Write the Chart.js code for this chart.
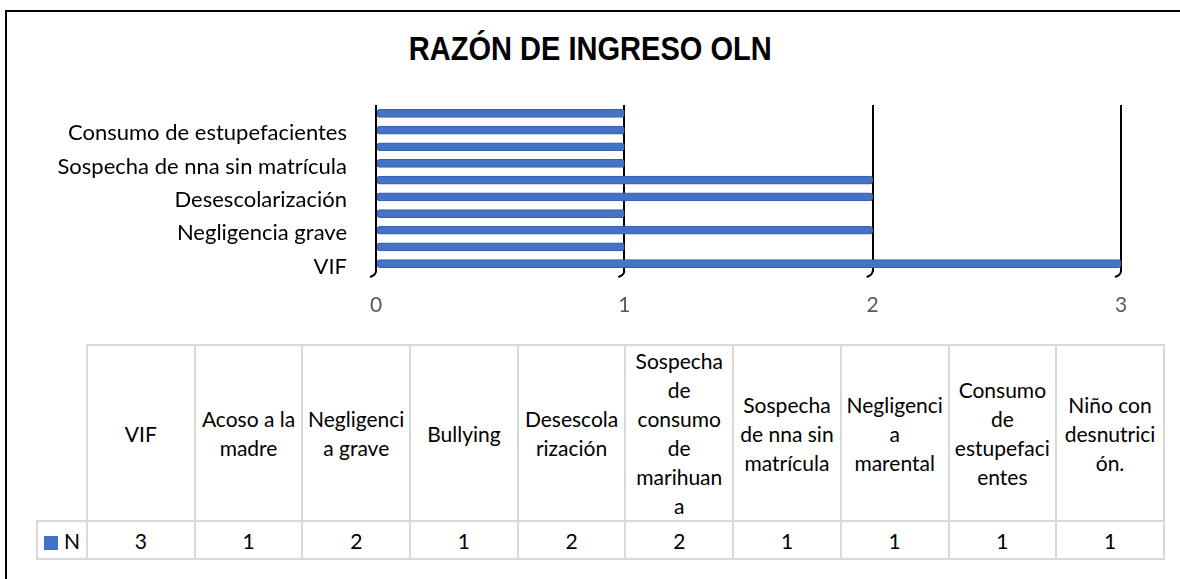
<!DOCTYPE html>
<html>
<head>
<meta charset="utf-8">
<script src="https://cdn.jsdelivr.net/npm/chart.js@4"></script>
<style>
  body { margin: 0; background: #fff; width: 1180px; height: 579px; overflow: hidden; position: relative; font-family: Lato, sans-serif; }
  #frame { position: absolute; left: 5px; top: 10px; width: 1200px; height: 600px; border: 2px solid #000; box-sizing: border-box; }
  #title { position: absolute; left: 0; width: 1180px; top: 30px; text-align: center; font-family: 'Liberation Sans', Arial, sans-serif; font-weight: bold; font-size: 33px; color: #000; }
  #title span { display: inline-block; transform: scaleX(0.88); }
  #chartBox { position: absolute; left: 0; top: 0; width: 1180px; height: 330px; }
  #dataTable { position: absolute; left: 36px; top: 344px; border-collapse: collapse; table-layout: fixed; font-size: 21px; color: #000; }
  #dataTable td { border: 2px solid #d9d9d9; text-align: center; vertical-align: middle; padding: 0; line-height: 29px; white-space: nowrap; }
  #dataTable td.corner { border-top: none; border-left: none; }
  .swatch { display: inline-block; width: 14px; height: 14px; background: #4472C4; margin-right: 6px; vertical-align: -1px; }
</style>
</head>
<body>
<div id="frame"></div>
<div id="title"><span>RAZÓN DE INGRESO OLN</span></div>
<div id="chartBox"><canvas id="razonChart"></canvas></div>
<table id="dataTable"></table>
<script>
const categories = ['VIF', 'Acoso a la madre', 'Negligencia grave', 'Bullying', 'Desescolarización',
  'Sospecha de consumo de marihuana', 'Sospecha de nna sin matrícula', 'Negligencia marental',
  'Consumo de estupefacientes', 'Niño con desnutrición.'];
const values = [3, 1, 2, 1, 2, 2, 1, 1, 1, 1];
const seriesName = 'N';
const xTicks = [0, 1, 2, 3];
// header text of the data table, wrapped the way the picture shows it
const tableHeaders = [['VIF'], ['Acoso a la', 'madre'], ['Negligenci', 'a grave'], ['Bullying'],
  ['Desescola', 'rización'], ['Sospecha', 'de', 'consumo', 'de', 'marihuan', 'a'],
  ['Sospecha', 'de nna sin', 'matrícula'], ['Negligenci', 'a', 'marental'],
  ['Consumo', 'de', 'estupefaci', 'entes'], ['Niño con', 'desnutrici', 'ón.']];

const barColor = '#4472C4';

// little slanted feet under each vertical gridline
const gridFeet = {
  id: 'gridFeet',
  afterDraw(chart) {
    const ctx = chart.ctx;
    const xs = chart.scales.x;
    const bottom = chart.chartArea.bottom;
    ctx.save();
    ctx.strokeStyle = '#000';
    ctx.lineWidth = 2;
    xTicks.forEach(v => {
      const x = xs.getPixelForValue(v);
      ctx.beginPath();
      ctx.moveTo(x, bottom - 1);
      ctx.quadraticCurveTo(x, bottom + 3, x - 6, bottom + 5);
      ctx.stroke();
    });
    ctx.restore();
  }
};

const ctx = document.getElementById('razonChart').getContext('2d');
new Chart(ctx, {
  type: 'bar',
  data: {
    labels: categories,
    datasets: [{
      label: seriesName,
      data: values,
      backgroundColor: barColor,
      borderColor: '#3560AE',
      borderWidth: 1,
      borderRadius: 3,
      borderSkipped: false,
      barThickness: 8
    }]
  },
  options: {
    indexAxis: 'y',
    responsive: true,
    maintainAspectRatio: false,
    animation: false,
    layout: { padding: { left: 0, right: 59, top: 105, bottom: 0 } },
    plugins: {
      legend: { display: false },
      tooltip: { enabled: false }
    },
    scales: {
      x: {
        min: 0,
        max: 3,
        afterBuildTicks: s => { s.ticks = xTicks.map(v => ({ value: v })); },
        afterFit: s => { s.height = 58; },
        grid: { color: '#000', lineWidth: 2, drawTicks: false },
        border: { display: false },
        ticks: { color: '#595959', font: { family: 'Lato', size: 21 }, padding: 21 }
      },
      y: {
        reverse: true,
        afterFit: s => { s.width = 376; },
        grid: { display: false, drawTicks: false },
        border: { display: false },
        ticks: {
          autoSkip: false,
          color: '#000',
          font: { family: 'Lato', size: 22 },
          padding: 29,
          labelOffset: 3,
          callback: (val, idx) => idx % 2 === 0 ? categories[idx] : ''
        }
      }
    }
  },
  plugins: [gridFeet]
});

// data table under the chart
let html = '<colgroup><col style="width:50px">';
categories.forEach(() => { html += '<col style="width:107.7px">'; });
html += '</colgroup><tr style="height:176px"><td class="corner"></td>';
tableHeaders.forEach(lines => { html += `<td>${lines.join('<br>')}</td>`; });
html += '</tr><tr style="height:38px"><td><span class="swatch"></span>' + seriesName + '</td>';
values.forEach(v => { html += `<td>${v}</td>`; });
html += '</tr>';
document.getElementById('dataTable').innerHTML = html;
</script>
</body>
</html>
